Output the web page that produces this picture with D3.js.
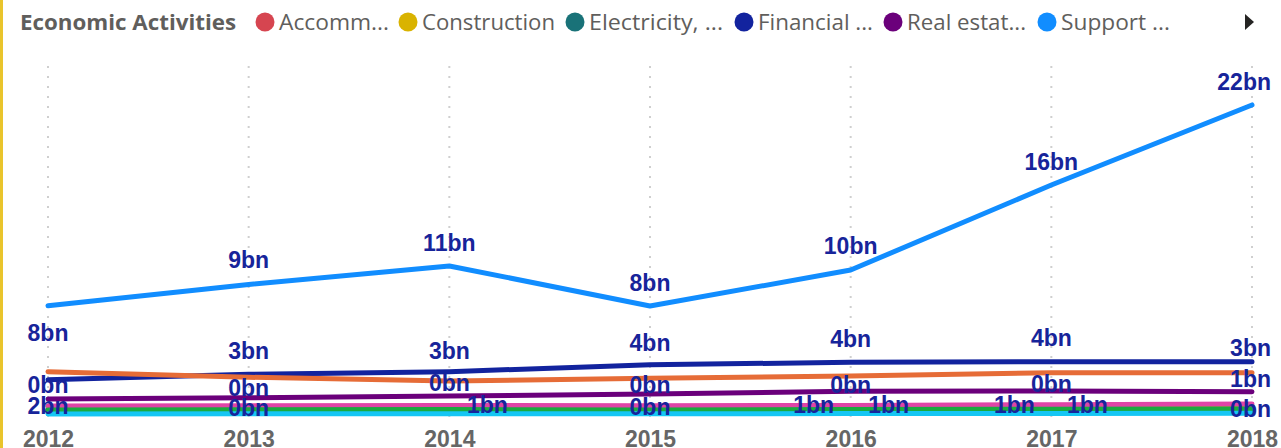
<!DOCTYPE html>
<html>
<head>
<meta charset="utf-8">
<script src="https://cdn.jsdelivr.net/npm/d3@7"></script>
<style>
  html, body { margin: 0; padding: 0; background: #ffffff; }
  svg { display: block; }
</style>
</head>
<body>
<svg id="chart" width="1281" height="448"></svg>
<script>
// ---- data (values in billions) ----
const years = ["2012", "2013", "2014", "2015", "2016", "2017", "2018"];

const accommodation = [0.40, 0.35, 0.45, 0.40, 0.40, 0.40, 0.42];
const construction  = [0.55, 0.56, 0.57, 0.56, 0.58, 0.58, 0.60];
const electricity   = [0.28, 0.28, 0.29, 0.27, 0.30, 0.30, 0.31];
const financial     = [2.48, 2.87, 3.06, 3.55, 3.73, 3.77, 3.77];
const realEstate    = [1.11, 1.20, 1.32, 1.46, 1.66, 1.68, 1.63];
const support       = [7.77, 9.29, 10.61, 7.75, 10.32, 16.39, 22.11];
const transport     = [3.06, 2.66, 2.39, 2.59, 2.75, 2.99, 2.99];
const waterSupply   = [0.61, 0.63, 0.64, 0.63, 0.65, 0.70, 0.75];
const wholesale     = [0.33, 0.34, 0.35, 0.32, 0.36, 0.38, 0.39];
const otherServices = [0.04, 0.05, 0.06, 0.05, 0.07, 0.08, 0.09];

const seriesNames = [
  "Accommodation and food service activities",
  "Construction",
  "Electricity, gas, steam and air conditioning supply",
  "Financial and insurance activities",
  "Real estate activities",
  "Support service activities",
  "Transportation and storage",
  "Water supply",
  "Wholesale and retail trade",
  "Other service activities"
];
const seriesValues = [accommodation, construction, electricity, financial, realEstate,
                      support, transport, waterSupply, wholesale, otherServices];
const seriesColors = ["#D64550", "#D9B300", "#197278", "#12239E", "#6B007B",
                      "#118DFF", "#E66C37", "#E044A7", "#1AAB40", "#15C6F4"];

// legend shows the first six entries, truncated as the visual does
const legendTitle = "Economic Activities";
const legendLabels = ["Accomm...", "Construction", "Electricity, ...", "Financial ...", "Real estat...", "Support ..."];

// which data labels survive overlap: [series index, year index, dx, dy from point]
const labelPlacements = [
  [5, 0, 0, 26.8], [5, 1, 0, -24.4], [5, 2, 0, -23], [5, 3, 0, -23],
  [5, 4, 0, -24], [5, 5, 0, -23], [5, 6, 0, -23],
  [3, 0, 0, 25.7], [3, 1, 0, -23.3], [3, 2, 0, -21.2], [3, 3, 0, -22.3],
  [3, 4, 0, -23.3], [3, 5, 0, -24.2],
  [6, 6, 0, -24.6],
  [7, 6, 0, -25], [7, 2, 38, -0.5], [7, 4, -37, -0.4], [7, 5, -37, 0.3],
  [1, 4, 38, -1.4], [1, 5, 36, -1.4],
  [0, 0, 0, -23.9], [0, 1, 0, -21.6], [0, 2, 0, -25.7], [0, 3, 0, -24.4],
  [0, 4, 0, -23.9], [0, 5, 0, -24.9],
  [9, 1, 0, -5.8], [9, 6, 0, -4.2],
  [8, 3, 0, -3]
];

// ---- drawing ----
const svg = d3.select("#chart");
const W = 1281, H = 448;
const plotRight = 1271;

const x = d3.scalePoint().domain(years).range([48, 1252]);
const y = d3.scaleLinear().domain([0, 25]).range([414.5, 64.5]);

// left accent bar
svg.append("rect").attr("x", 0).attr("y", 0).attr("width", 3).attr("height", H)
  .attr("fill", "#E9C42C");

// dotted vertical gridlines
svg.append("g").selectAll("line").data(years).join("line")
  .attr("x1", d => x(d)).attr("x2", d => x(d))
  .attr("y1", 66).attr("y2", 417)
  .attr("stroke", "#CFCFCF").attr("stroke-width", 2)
  .attr("stroke-dasharray", "2 8");

// x axis
const xAxis = svg.append("g").attr("transform", "translate(0,430.5)")
  .call(d3.axisBottom(x).tickSizeInner(0).tickSizeOuter(0).tickPadding(0));
xAxis.select(".domain").remove();
xAxis.selectAll("text")
  .attr("y", 0).attr("dy", "0.71em")
  .attr("fill", "#666666")
  .style("font-family", "'Liberation Sans', Arial, sans-serif")
  .style("font-weight", "bold")
  .style("font-size", "23px");

// lines
const line = d3.line().x((d, i) => x(years[i])).y(d => y(d));
svg.append("g").selectAll("path").data(seriesValues).join("path")
  .attr("d", d => line(d))
  .attr("fill", "none")
  .attr("stroke", (d, i) => seriesColors[i])
  .attr("stroke-width", 5)
  .attr("stroke-linecap", "round")
  .attr("stroke-linejoin", "round");

// data labels
const labelSize = 23;
const labels = svg.append("g")
  .style("font-family", "'Liberation Sans', Arial, sans-serif")
  .style("font-weight", "bold")
  .style("font-size", labelSize + "px")
  .attr("fill", "#17249A");
labelPlacements.forEach(([s, i, dx, dy]) => {
  const v = seriesValues[s][i];
  const cx = x(years[i]) + dx;
  const cy = y(v) + dy;
  const t = labels.append("text")
    .attr("text-anchor", "middle")
    .attr("x", cx)
    .attr("y", cy + 0.35 * labelSize)
    .text(Math.round(v) + "bn");
  const w = t.node().getComputedTextLength();
  if (cx + w / 2 > plotRight) t.attr("x", plotRight - w / 2);
});

// legend
const legend = svg.append("g")
  .style("font-family", "'Segoe UI', 'Open Sans', 'Noto Sans', sans-serif")
  .style("font-size", "21px")
  .attr("fill", "#605E5C");
legend.append("text")
  .attr("x", 20).attr("y", 29.5)
  .style("font-weight", "bold")
  .attr("textLength", 216).attr("lengthAdjust", "spacingAndGlyphs")
  .text(legendTitle);

const markerX = [265, 408, 575, 744, 893, 1047];
const textWidths = [110, 133, 134, 115, 119, 109];
legendLabels.forEach((lab, i) => {
  legend.append("circle")
    .attr("cx", markerX[i]).attr("cy", 22).attr("r", 9.5)
    .attr("fill", seriesColors[i]);
  legend.append("text")
    .attr("x", markerX[i] + 14).attr("y", 29.5)
    .attr("textLength", textWidths[i]).attr("lengthAdjust", "spacingAndGlyphs")
    .text(lab);
});
legend.append("path")
  .attr("d", "M1245,14 L1254,22 L1245,30 Z")
  .attr("fill", "#252423");
</script>
</body>
</html>
